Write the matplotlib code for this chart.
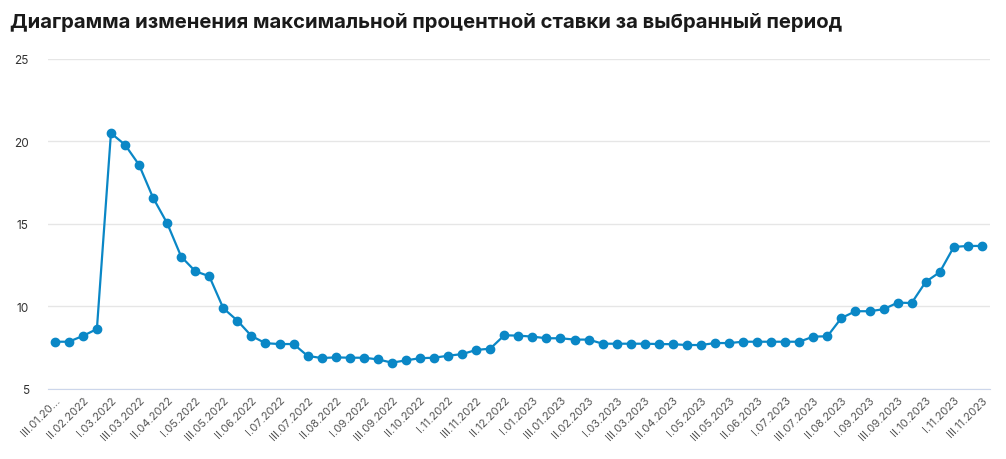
import matplotlib.pyplot as plt
import numpy as np

plt.rcParams['font.family'] = ['Inter', 'DejaVu Sans']

values = [7.85, 7.85, 8.2, 8.62, 20.5, 19.8, 18.58, 16.58, 15.04, 13.01,
          12.13, 11.82, 9.88, 9.13, 8.2, 7.76, 7.71, 7.71, 6.99, 6.86,
          6.9, 6.88, 6.88, 6.78, 6.58, 6.72, 6.85, 6.88, 7.0, 7.1,
          7.35, 7.43, 8.24, 8.22, 8.16, 8.06, 8.06, 7.98, 7.98, 7.73,
          7.73, 7.73, 7.73, 7.71, 7.7, 7.65, 7.65, 7.77, 7.77, 7.85,
          7.85, 7.85, 7.85, 7.85, 8.16, 8.18, 9.29, 9.7, 9.7, 9.82,
          10.22, 10.2, 11.48, 12.07, 13.6, 13.66, 13.66]

tick_labels = ['III.01.20...', 'II.02.2022', 'I.03.2022', 'III.03.2022', 'II.04.2022',
               'I.05.2022', 'III.05.2022', 'II.06.2022', 'I.07.2022', 'III.07.2022',
               'II.08.2022', 'I.09.2022', 'III.09.2022', 'II.10.2022', 'I.11.2022',
               'III.11.2022', 'II.12.2022', 'I.01.2023', 'III.01.2023', 'II.02.2023',
               'I.03.2023', 'III.03.2023', 'II.04.2023', 'I.05.2023', 'III.05.2023',
               'II.06.2023', 'I.07.2023', 'III.07.2023', 'II.08.2023', 'I.09.2023',
               'III.09.2023', 'II.10.2023', 'I.11.2023', 'III.11.2023']

y_ticks = [5, 10, 15, 20, 25]

fig = plt.figure(figsize=(10.06, 4.6), dpi=100)
ax = fig.add_axes([0.048, 0.1528, 0.936, 0.7168])

x = np.arange(len(values))
ax.plot(x, values, '-o', color='#0a87c6', lw=1.6, markersize=6, zorder=3)

ax.set_xlim(-0.46, len(values) - 1 + 0.57)
ax.set_ylim(5, 25)
ax.set_yticks(y_ticks)
ax.set_yticklabels([str(v) for v in y_ticks])
ax.set_xticks(x[::2])
ax.set_xticklabels(tick_labels, rotation=45, ha='right', rotation_mode='anchor')

ax.grid(axis='y', color='#e6e6e6', lw=1)
ax.set_axisbelow(True)
for s in ['top', 'right', 'left']:
    ax.spines[s].set_visible(False)
ax.spines['bottom'].set_color('#ccd6eb')
ax.tick_params(axis='y', length=0, pad=14, labelsize=8.5, labelcolor='#333333')
ax.tick_params(axis='x', length=0, pad=4, labelsize=8, labelcolor='#555555')

fig.text(0.01, 0.972, 'Диаграмма изменения максимальной процентной ставки за выбранный период',
         fontsize=14.6, fontweight='bold', color='#1a1a1a', va='top', ha='left')

fig.savefig('out.png', dpi=100)
